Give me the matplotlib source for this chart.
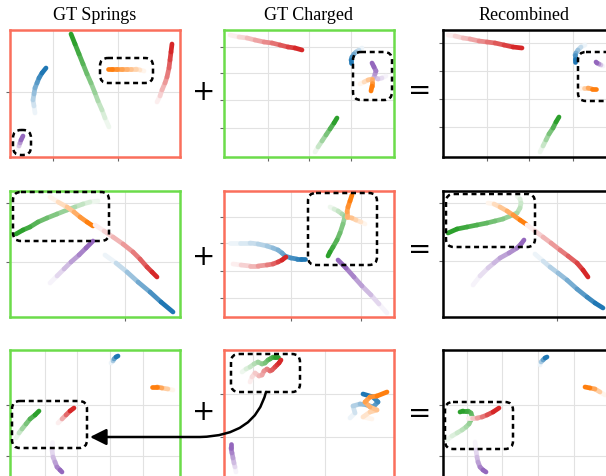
import matplotlib
matplotlib.use("Agg")
import matplotlib.pyplot as plt
import numpy as np
from matplotlib.collections import LineCollection
from matplotlib.patches import FancyBboxPatch, FancyArrowPatch
from matplotlib.path import Path
import matplotlib.colors as mcolors

# ---------------- data (trajectory waypoints, faded start -> dark end, figure pixels) -------------
titles = ["GT Springs", "GT Charged", "Recombined"]

# Row 1
P1A_BLUE = [(35, 113), (34, 106), (33, 100), (34, 94), (35, 88), (37, 83), (39, 78), (42, 73), (46, 68)]
P1A_ORANGE = [(144, 71), (140, 70), (136, 69), (131, 69), (127, 69), (122, 69), (117, 69), (112, 69), (108, 69)]
P1A_GREEN = [(109, 127), (105, 118), (102, 110), (98, 101), (95, 93), (91, 83), (87, 74), (83, 64),
             (79, 54), (75, 44), (71, 34)]
P1A_RED = [(157, 102), (160, 96), (162, 90), (165, 83), (167, 77), (169, 68), (170, 60), (171, 52), (172, 44)]
P1A_PURPLE = [(18, 148), (19, 146), (20, 143), (21, 140), (23, 136)]

P1B_RED = [(230, 35), (239, 37), (247, 38), (255, 40), (264, 42), (272, 43), (280, 45), (288, 47), (295, 48), (302, 50)]
P1B_BLUE = [(362, 48), (359, 50), (356, 52), (354, 54), (352, 57), (351, 60), (351, 63)]
P1B_PURPLE = [(386, 76), (382, 78), (378, 79), (374, 77), (375, 74), (376, 71), (374, 67), (372, 63)]
P1B_ORANGE = [(360, 84), (364, 82), (368, 80), (372, 79), (372, 83), (372, 86), (371, 91)]
P1B_GREEN = [(315, 152), (318, 147), (322, 141), (326, 135), (330, 129), (334, 123), (337, 118)]

P1C_RED = [(448, 35), (455, 36), (463, 38), (470, 39), (479, 41), (487, 42), (495, 43), (504, 45), (513, 47), (522, 48)]
P1C_BLUE = [(585, 45), (581, 47), (578, 50), (576, 53), (575, 55), (575, 59), (575, 62)]
P1C_PURPLE = [(603, 66), (601, 65), (599, 64), (597, 63), (596, 62)]
P1C_ORANGE = [(580, 88), (584, 88), (588, 88), (592, 89), (596, 89)]
P1C_GREEN = [(540, 152), (543, 146), (546, 140), (549, 134), (553, 128), (556, 122), (559, 117)]

# Row 2
P2A_GREEN = [(98, 201), (90, 202), (83, 204), (75, 207), (67, 210), (57, 214), (47, 218), (38, 222),
             (30, 227), (23, 230), (16, 234)]
P2A_ORANGE = [(50, 197), (58, 202), (67, 207), (74, 212), (80, 217), (87, 222), (93, 226)]
P2A_RED = [(95, 225), (104, 231), (113, 237), (123, 244), (133, 252), (140, 259), (147, 267), (152, 272), (157, 277)]
P2A_PURPLE = [(50, 283), (57, 276), (64, 269), (71, 262), (79, 255), (86, 248), (93, 241)]
P2A_BLUE = [(105, 255), (116, 263), (127, 272), (138, 282), (150, 292), (161, 302), (173, 312)]

P2B_BLUE = [(230, 243), (240, 243), (250, 243), (258, 244), (267, 246), (273, 248), (278, 250), (282, 253),
            (285, 256), (291, 258), (297, 259), (301, 259), (305, 259)]
P2B_RED = [(233, 264), (241, 265), (250, 266), (258, 266), (267, 265), (273, 264), (278, 262), (282, 260), (286, 257)]
P2B_ORANGE = [(365, 224), (361, 222), (356, 220), (352, 218), (347, 217), (347, 212), (348, 207), (350, 201), (352, 195)]
P2B_GREEN = [(330, 207), (334, 209), (338, 211), (342, 214), (345, 216), (343, 224), (340, 233), (337, 240),
             (333, 247), (330, 252), (328, 256)]
P2B_PURPLE = [(387, 313), (379, 304), (371, 295), (362, 286), (354, 277), (346, 268), (338, 260)]

P2C_GREEN = [(517, 196), (520, 199), (521, 203), (520, 208), (517, 213), (510, 216), (503, 219), (495, 221),
             (487, 223), (477, 225), (467, 227), (457, 229), (448, 233)]
P2C_ORANGE = [(488, 203), (494, 204), (500, 207), (507, 211), (513, 215), (520, 220), (526, 224)]
P2C_RED = [(527, 225), (535, 231), (543, 237), (551, 243), (560, 250), (568, 256), (577, 263), (583, 270), (588, 277)]
P2C_PURPLE = [(473, 285), (480, 276), (488, 268), (494, 263), (500, 258), (509, 253), (517, 248), (521, 244), (524, 240)]
P2C_BLUE = [(535, 254), (543, 261), (550, 267), (558, 273), (567, 280), (577, 289), (587, 297), (595, 303), (603, 308)]

# Row 3
P3A_BLUE = [(111, 363), (113, 361), (114, 359), (116, 357), (118, 356)]
P3A_ORANGE = [(173, 390), (168, 389), (162, 388), (157, 387), (152, 387)]
P3A_GREEN = [(16, 438), (19, 433), (22, 429), (26, 424), (30, 419), (35, 415), (39, 411)]
P3A_RED = [(58, 423), (62, 419), (66, 415), (70, 411), (74, 408)]
P3A_PURPLE = [(52, 442), (52, 450), (53, 457), (55, 462), (57, 467), (60, 470), (62, 472)]

P3B_GREEN = [(242, 372), (246, 369), (250, 367), (254, 364), (258, 362), (262, 364), (265, 363), (268, 360),
             (270, 359), (273, 357), (275, 357), (278, 357)]
P3B_RED = [(250, 382), (252, 377), (255, 373), (259, 376), (262, 375), (264, 371), (267, 369), (270, 371),
           (272, 370), (275, 367), (277, 365), (279, 363), (281, 360)]
P3B_BLUE = [(350, 418), (355, 413), (353, 406), (360, 404), (367, 405), (373, 407), (378, 402), (373, 397), (363, 394)]
P3B_ORANGE = [(372, 419), (363, 417), (370, 412), (377, 410), (370, 407), (365, 402), (370, 397), (377, 396), (387, 392)]
P3B_PURPLE = [(236, 472), (235, 467), (234, 463), (233, 458), (232, 453), (231, 448), (231, 444)]

P3C_BLUE = [(540, 365), (541, 362), (543, 360), (545, 358), (547, 357)]
P3C_ORANGE = [(605, 395), (600, 392), (595, 389), (590, 388), (585, 387)]
P3C_GREEN = [(447, 440), (452, 436), (457, 433), (462, 430), (466, 427), (469, 424), (471, 420), (472, 416),
             (471, 413), (468, 411), (466, 411), (463, 411), (460, 412)]
P3C_RED = [(468, 418), (472, 418), (477, 418), (482, 417), (487, 415), (493, 412), (499, 408)]
P3C_PURPLE = [(475, 442), (476, 450), (477, 457), (478, 462), (480, 467), (483, 470), (486, 472)]

# grid tick positions per panel
TICKS = {
    "1A": ([53, 118], [92]),
    "1B": ([268, 309, 351], [47, 73, 100, 128]),
    "1C": ([487, 529, 573], [43, 71, 99, 127]),
    "2A": ([125], [203, 262]),
    "2B": ([291, 361], [217, 243, 271, 298]),
    "2C": ([557], [203, 261]),
    "3A": ([45, 77, 110, 143], [405, 456]),
    "3B": ([253, 325], [394, 437]),
    "3C": ([467, 502, 538, 574], [405, 456]),
}

# dashed highlight boxes (x0, y0, x1, y1)
BOXES = [(100, 58, 153, 83), (13, 130, 31, 155), (353, 52, 392, 100), (578, 52, 614, 101),
         (13, 192, 109, 241), (308, 193, 377, 265), (446, 194, 535, 247),
         (12, 401, 87, 448), (231, 354, 300, 392), (445, 402, 513, 449)]

# ---------------- layout ----------------
W, H = 606, 476
fig = plt.figure(figsize=(W / 100, H / 100), dpi=100)

COLS = {"A": (10, 180), "B": (224, 394), "C": (443, 613)}
ROWS = {"1": (30, 157), "2": (191, 317), "3": (350, 477)}
EDGE = {("1", "A"): "#fa6f5c", ("1", "B"): "#6cdc4a", ("1", "C"): "black",
        ("2", "A"): "#6cdc4a", ("2", "B"): "#fa6f5c", ("2", "C"): "black",
        ("3", "A"): "#6cdc4a", ("3", "B"): "#fa6f5c", ("3", "C"): "black"}

C_BLUE, C_ORANGE, C_GREEN, C_RED, C_PURPLE = "#1f77b4", "#ff7f0e", "#2ca02c", "#d62728", "#9467bd"

TRAJ = {
    "1A": [(P1A_BLUE, C_BLUE), (P1A_ORANGE, C_ORANGE), (P1A_GREEN, C_GREEN), (P1A_RED, C_RED), (P1A_PURPLE, C_PURPLE)],
    "1B": [(P1B_RED, C_RED), (P1B_BLUE, C_BLUE), (P1B_PURPLE, C_PURPLE), (P1B_ORANGE, C_ORANGE), (P1B_GREEN, C_GREEN)],
    "1C": [(P1C_RED, C_RED), (P1C_BLUE, C_BLUE), (P1C_PURPLE, C_PURPLE), (P1C_ORANGE, C_ORANGE), (P1C_GREEN, C_GREEN)],
    "2A": [(P2A_GREEN, C_GREEN), (P2A_ORANGE, C_ORANGE), (P2A_RED, C_RED), (P2A_PURPLE, C_PURPLE), (P2A_BLUE, C_BLUE)],
    "2B": [(P2B_BLUE, C_BLUE), (P2B_RED, C_RED), (P2B_GREEN, C_GREEN), (P2B_ORANGE, C_ORANGE), (P2B_PURPLE, C_PURPLE)],
    "2C": [(P2C_GREEN, C_GREEN), (P2C_ORANGE, C_ORANGE), (P2C_RED, C_RED), (P2C_PURPLE, C_PURPLE), (P2C_BLUE, C_BLUE)],
    "3A": [(P3A_BLUE, C_BLUE), (P3A_ORANGE, C_ORANGE), (P3A_GREEN, C_GREEN), (P3A_RED, C_RED), (P3A_PURPLE, C_PURPLE)],
    "3B": [(P3B_GREEN, C_GREEN), (P3B_RED, C_RED), (P3B_BLUE, C_BLUE), (P3B_ORANGE, C_ORANGE), (P3B_PURPLE, C_PURPLE)],
    "3C": [(P3C_BLUE, C_BLUE), (P3C_ORANGE, C_ORANGE), (P3C_GREEN, C_GREEN), (P3C_RED, C_RED), (P3C_PURPLE, C_PURPLE)],
}


def traj(ax, pts, color):
    pts = np.array(pts, float)
    segs = np.stack([pts[:-1], pts[1:]], axis=1)
    n = len(segs)
    base = np.array(mcolors.to_rgb(color))
    t = np.linspace(0.08, 1.0, n)
    cols = [tuple(1 - (1 - base) * ti) for ti in t]
    lc = LineCollection(segs, colors=cols, linewidths=3.4, capstyle="round", joinstyle="round", zorder=3)
    ax.add_collection(lc)


for r, (y0, y1) in ROWS.items():
    for c, (x0, x1) in COLS.items():
        key = r + c
        ax = fig.add_axes([x0 / W, 1 - y1 / H, (x1 - x0) / W, (y1 - y0) / H])
        ax.set_xlim(x0, x1)
        ax.set_ylim(y1, y0)
        xt, yt = TICKS[key]
        ax.set_xticks(xt)
        ax.set_yticks(yt)
        ax.set_xticklabels([])
        ax.set_yticklabels([])
        ax.grid(True, color="#e2e2e2", lw=0.8)
        ax.set_axisbelow(True)
        ax.tick_params(length=3, width=0.8, color="#666666")
        for s in ax.spines.values():
            s.set_color(EDGE[(r, c)])
            s.set_linewidth(1.8)
        for pts, col in TRAJ[key]:
            traj(ax, pts, col)

# overlay for titles, symbols, boxes and arrow
ov = fig.add_axes([0, 0, 1, 1])
ov.set_xlim(0, W)
ov.set_ylim(H, 0)
ov.axis("off")
ov.patch.set_alpha(0)

for title, xc in zip(titles, [95, 309, 524]):
    ov.text(xc, 16, title, ha="center", va="center", fontsize=13, family="Liberation Serif")

for yc in [92, 257, 412]:
    ov.text(204, yc, "+", ha="center", va="center", fontsize=20, family="DejaVu Sans")
for yc in [91, 250, 414]:
    ov.text(420, yc, "=", ha="center", va="center", fontsize=20, family="DejaVu Sans")

for (bx0, by0, bx1, by1) in BOXES:
    ov.add_patch(FancyBboxPatch((bx0, by0), bx1 - bx0, by1 - by0,
                                boxstyle="round,pad=0,rounding_size=8", fill=False,
                                ec="black", lw=1.8, ls=(0, (2, 1.5)), zorder=5))

arrow_path = Path([(266, 392), (255, 436), (200, 437), (90, 437)],
                  [Path.MOVETO, Path.CURVE3, Path.CURVE3, Path.LINETO])
ov.add_patch(FancyArrowPatch(path=arrow_path, arrowstyle="-|>,head_length=0.7,head_width=0.35",
                             mutation_scale=14, lw=1.8, color="black", zorder=6))

fig.savefig("out.png", dpi=100)
